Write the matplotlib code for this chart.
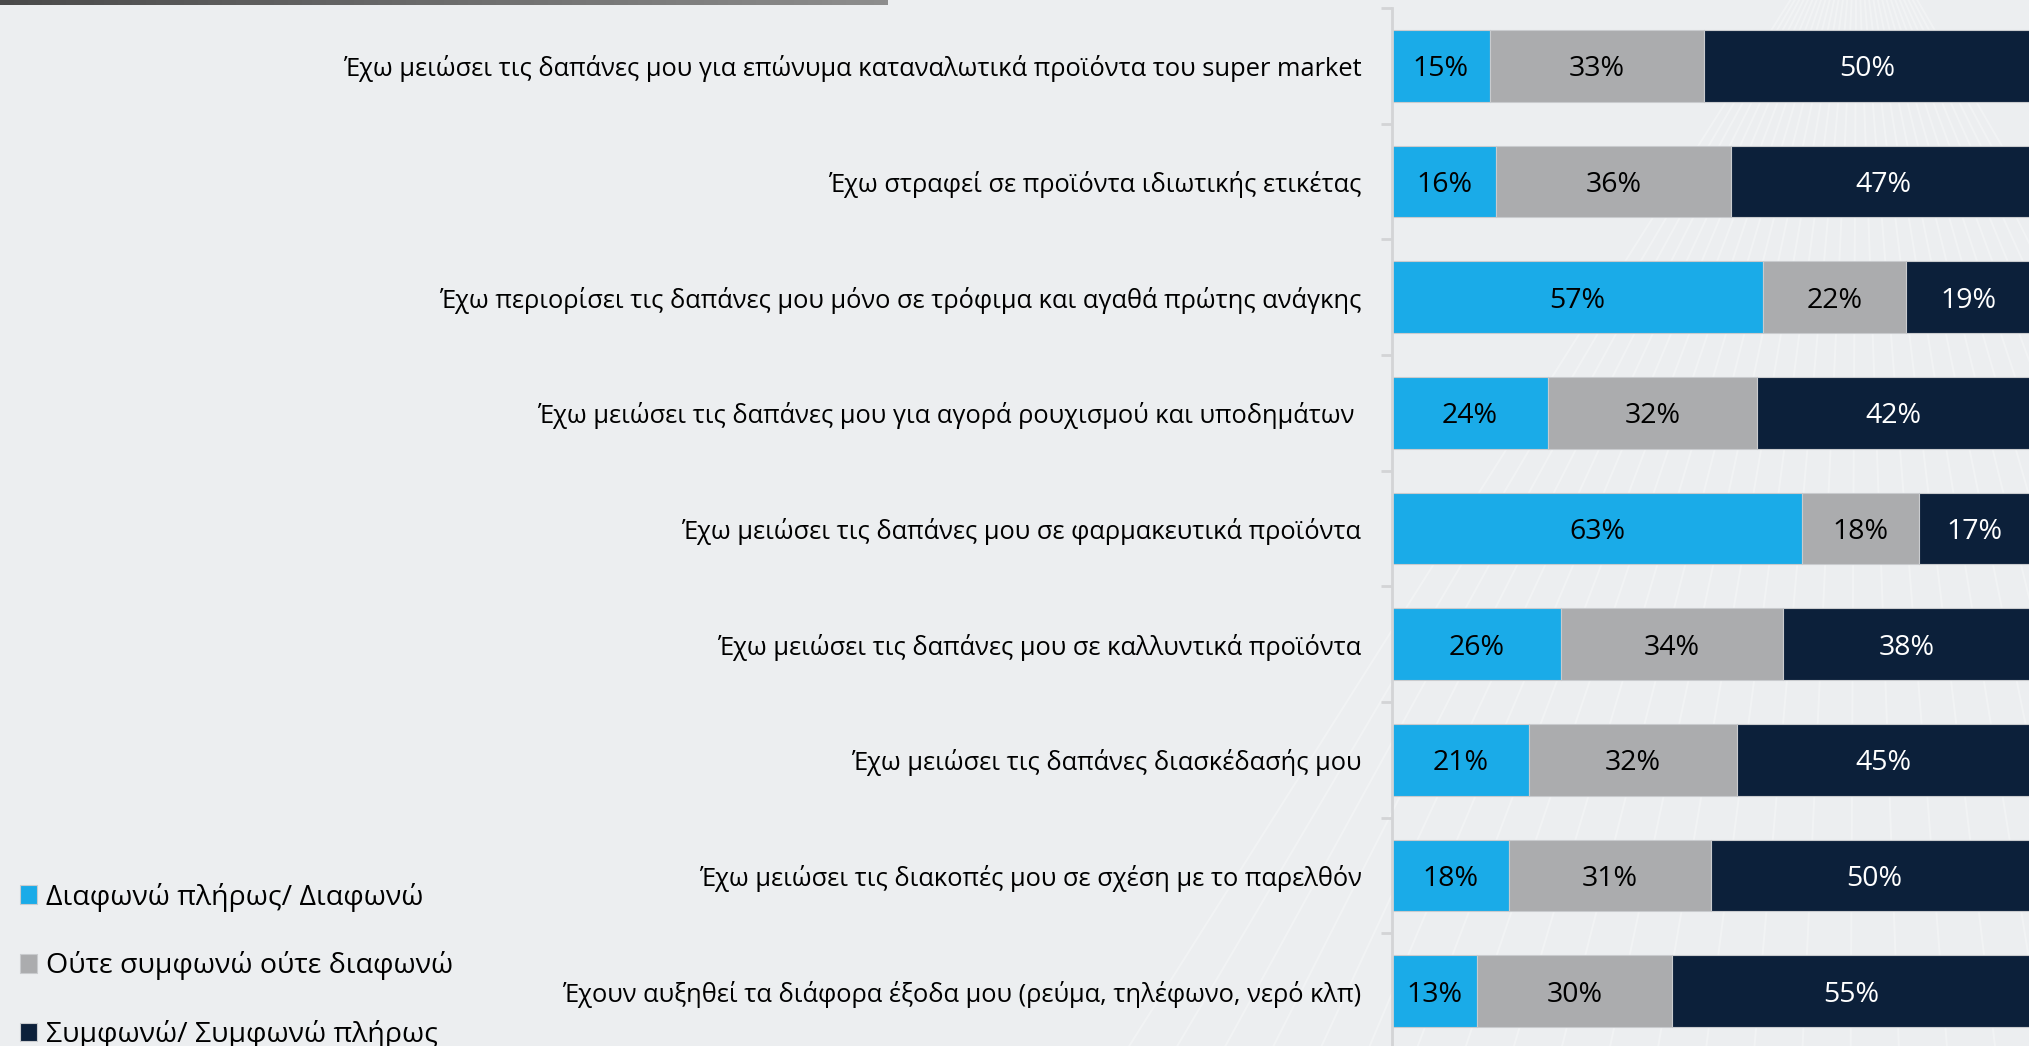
import matplotlib
matplotlib.use("Agg")
import matplotlib.pyplot as plt
import numpy as np
from matplotlib.colors import LinearSegmentedColormap
from matplotlib.lines import Line2D

# ---------------- data ----------------
categories = [
    "Έχω μειώσει τις δαπάνες μου για επώνυμα καταναλωτικά προϊόντα του super market",
    "Έχω στραφεί σε προϊόντα ιδιωτικής ετικέτας",
    "Έχω περιορίσει τις δαπάνες μου μόνο σε τρόφιμα και αγαθά πρώτης ανάγκης",
    "Έχω μειώσει τις δαπάνες μου για αγορά ρουχισμού και υποδημάτων ",
    "Έχω μειώσει τις δαπάνες μου σε φαρμακευτικά προϊόντα",
    "Έχω μειώσει τις δαπάνες μου σε καλλυντικά προϊόντα",
    "Έχω μειώσει τις δαπάνες διασκέδασής μου",
    "Έχω μειώσει τις διακοπές μου σε σχέση με το παρελθόν",
    "Έχουν αυξηθεί τα διάφορα έξοδα μου (ρεύμα, τηλέφωνο, νερό κλπ)",
]
disagree = [15, 16, 57, 24, 63, 26, 21, 18, 13]
neutral = [33, 36, 22, 32, 18, 34, 32, 31, 30]
agree = [50, 47, 19, 42, 17, 38, 45, 50, 55]
series_names = ["Διαφωνώ πλήρως/ Διαφωνώ", "Ούτε συμφωνώ ούτε διαφωνώ", "Συμφωνώ/ Συμφωνώ πλήρως"]

colors = ["#1aabe8", "#abacae", "#0c203a"]
text_colors = ["black", "black", "white"]
bg = "#eceef0"
font = ["Open Sans", "DejaVu Sans"]

plt.rcParams["font.family"] = font

fig = plt.figure(figsize=(20.29, 10.46), dpi=100, facecolor=bg)

# faint decorative fan of lines in the background (right side)
for xb in np.linspace(0.55, 1.25, 30):
    fig.add_artist(Line2D([0.915, xb], [1.1, -0.02], transform=fig.transFigure,
                          color="white", alpha=0.3, lw=1.4, zorder=-5))

# gradient rule at the top left
gax = fig.add_axes([0, 1 - 5 / 1046, 888 / 2029, 5 / 1046])
gax.imshow(np.linspace(0, 1, 256)[None, :], aspect="auto",
           cmap=LinearSegmentedColormap.from_list("g", ["#4a4a4a", "#8e8e8e"]))
gax.axis("off")

ax = fig.add_axes([1392 / 2029, -3 / 1046, 651 / 2029, 1041 / 1046])
ax.set_facecolor("none")

y = np.arange(len(categories))
left = np.zeros(len(categories))
for vals, name, c, tc in zip([disagree, neutral, agree], series_names, colors, text_colors):
    bars = ax.barh(y, vals, left=left, height=0.62, color=c, label=name,
                   edgecolor="#c9cbce", linewidth=0.8)
    txts = ax.bar_label(bars, labels=[f"{v}%" for v in vals], label_type="center",
                        color=tc, fontsize=20.5)
    for t in txts:
        t.set_va("center_baseline")
    left += np.array(vals)

ax.set_xlim(0, 100)
ax.set_ylim(len(categories) - 0.5, -0.5)
ax.set_yticks(y, categories, fontsize=18.4)
ax.set_yticks(np.arange(-0.5, len(categories), 1), minor=True)
ax.tick_params(axis="y", which="major", length=0, pad=22)
ax.tick_params(axis="y", which="minor", length=8, width=2, color="#d3d4d6")
ax.set_xticks([])
for s in ["top", "right", "bottom"]:
    ax.spines[s].set_visible(False)
ax.spines["left"].set_color("#d3d4d6")
ax.spines["left"].set_linewidth(2)

handles, labels = ax.get_legend_handles_labels()
fig.legend(handles, labels, loc="lower left", bbox_to_anchor=(0.004, -0.014),
           frameon=False, fontsize=20.5, handlelength=0.62, handleheight=0.62,
           handletextpad=0.3, labelspacing=1.4, borderaxespad=0)

fig.savefig("out.png", dpi=100, facecolor=bg)
